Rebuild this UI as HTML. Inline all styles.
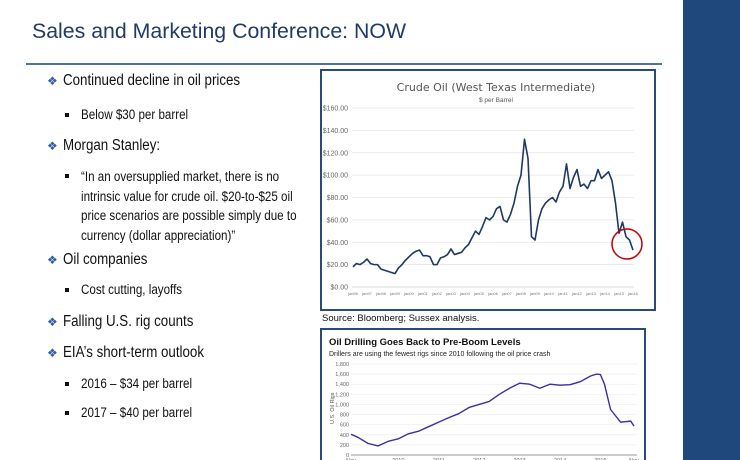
<!DOCTYPE html>
<html><head><meta charset="utf-8"><style>
body{margin:0;width:740px;height:460px;overflow:hidden;background:#fff;font-family:"Liberation Sans",sans-serif;position:relative}
.t{position:absolute;white-space:nowrap;transform:scaleX(0.86);transform-origin:left top;color:#111}
.b1{font-size:15.5px}
.b2{font-size:13.5px}
.dm{position:absolute;color:#2e5aa8;font-size:12px}
.sq{position:absolute;width:4px;height:4px;background:#111}
</style></head><body>
<div style="position:absolute;left:683px;top:0;width:57px;height:460px;background:#1f497d"></div>
<div style="position:absolute;left:32px;top:19px;font-size:21.3px;color:#1f3b66;white-space:nowrap">Sales and Marketing Conference: NOW</div>
<div style="position:absolute;left:26px;top:63px;width:636px;height:2px;background:#4f6f9f"></div>

<div>
<span class="dm" style="left:47px;top:74px">❖</span><div class="t b1" style="left:63px;top:72px">Continued decline in oil prices</div>
<div class="sq" style="left:65px;top:113px"></div><div class="t b2" style="left:81px;top:107px">Below $30 per barrel</div>
<span class="dm" style="left:47px;top:139px">❖</span><div class="t b1" style="left:63px;top:137px">Morgan Stanley:</div>
<div class="sq" style="left:65px;top:174px"></div>
<div class="t b2" style="left:81px;top:167px;line-height:19.5px">“In an oversupplied market, there is no<br>intrinsic value for crude oil. $20-to-$25 oil<br>price scenarios are possible simply due to<br>currency (dollar appreciation)”</div>
<span class="dm" style="left:47px;top:253px">❖</span><div class="t b1" style="left:63px;top:251px">Oil companies</div>
<div class="sq" style="left:65px;top:288px"></div><div class="t b2" style="left:81px;top:282px">Cost cutting, layoffs</div>
<span class="dm" style="left:47px;top:315px">❖</span><div class="t b1" style="left:63px;top:313px">Falling U.S. rig counts</div>
<span class="dm" style="left:47px;top:346px">❖</span><div class="t b1" style="left:63px;top:344px">EIA’s short-term outlook</div>
<div class="sq" style="left:65px;top:382px"></div><div class="t b2" style="left:81px;top:376px">2016 – $34 per barrel</div>
<div class="sq" style="left:65px;top:411px"></div><div class="t b2" style="left:81px;top:405px">2017 – $40 per barrel</div>
</div>

<svg id="c1" style="position:absolute;left:320px;top:69px" width="336" height="242"></svg>
<div style="position:absolute;left:322px;top:313px;font-size:9.5px;color:#111;white-space:nowrap">Source: Bloomberg; Sussex analysis.</div>
<svg id="c2" style="position:absolute;left:320px;top:328px" width="326" height="132"></svg>

<script>
const oilYears=[1996,1996.25,1996.5,1996.75,1997,1997.25,1997.5,1997.75,1998,1998.25,1998.5,1998.75,1999,1999.25,1999.5,1999.75,2000,2000.25,2000.5,2000.75,2001,2001.25,2001.5,2001.75,2002,2002.25,2002.5,2002.75,2003,2003.25,2003.5,2003.75,2004,2004.25,2004.5,2004.75,2005,2005.25,2005.5,2005.75,2006,2006.25,2006.5,2006.75,2007,2007.25,2007.5,2007.75,2008,2008.25,2008.5,2008.75,2009,2009.25,2009.5,2009.75,2010,2010.25,2010.5,2010.75,2011,2011.25,2011.5,2011.75,2012,2012.25,2012.5,2012.75,2013,2013.25,2013.5,2013.75,2014,2014.25,2014.5,2014.75,2015,2015.25,2015.5,2015.75,2016];
const oilPrices=[18,21,20,22,25,21,20,20,16,15,14,13,12,17,20,24,27,30,32,33,28,28,27,20,20,26,27,29,34,29,30,31,35,38,44,50,47,54,62,60,63,70,72,60,58,65,75,90,100,132,115,45,42,60,70,75,78,80,76,85,90,110,88,98,105,90,92,88,95,95,105,97,100,103,95,75,48,58,45,42,33];
const oilTicks=[0,20,40,60,80,100,120,140,160];
const oilXLabels=["jan96","jan97","jan98","jan99","jan00","jan01","jan02","jan03","jan04","jan05","jan06","jan07","jan08","jan09","jan10","jan11","jan12","jan13","jan14","jan15","jan16"];
const rigYears=[2008.83,2009,2009.25,2009.5,2009.75,2010,2010.25,2010.5,2010.75,2011,2011.25,2011.5,2011.75,2012,2012.25,2012.5,2012.75,2013,2013.25,2013.5,2013.75,2014,2014.25,2014.5,2014.75,2014.9,2015,2015.1,2015.25,2015.5,2015.75,2015.83];
const rigCounts=[410,350,230,180,270,320,420,470,560,650,740,820,940,1000,1060,1200,1320,1420,1400,1320,1400,1380,1390,1450,1560,1600,1590,1400,900,650,670,570];
const rigTicks=[0,200,400,600,800,1000,1200,1400,1600,1800];
const rigXLabels=["Nov","2010","2011","2012","2013","2014","2015","Nov"];
const rigXPos=[2008.83,2010,2011,2012,2013,2014,2015,2015.83];

const NS="http://www.w3.org/2000/svg";
function mk(p,tag,a,txt){const e=document.createElementNS(NS,tag);for(const k in a)e.setAttribute(k,a[k]);if(txt!==undefined)e.textContent=txt;p.appendChild(e);return e;}

const c1=document.getElementById('c1');
let e=mk(c1,'rect',{x:1,y:1,width:334,height:240,fill:'#fff',stroke:'#2a4a7a','stroke-width':2});

e=mk(c1,'text',{x:176,y:22,'text-anchor':'middle','font-size':11,fill:'#555','font-family':'DejaVu Sans, sans-serif'},'Crude Oil (West Texas Intermediate)');

e=mk(c1,'text',{x:176,y:33,'text-anchor':'middle','font-size':6.5,fill:'#555'},'$ per Barrel');

const y1=v=>218-v/160*179, x1=t=>33+(t-1996)*14;
oilTicks.forEach(v=>{let g=mk(c1,'line',{x1:32,x2:314,y1:y1(v),y2:y1(v),stroke:v?'#e4e4e4':'#ccc','stroke-width':0.8});

let t=mk(c1,'text',{x:28,y:y1(v)+2.5,'text-anchor':'end','font-size':7,fill:'#666'},'$'+v+'.00');
});
oilXLabels.forEach((l,i)=>{let t=mk(c1,'text',{x:x1(1996+i),y:226,'text-anchor':'middle','font-size':4,fill:'#777'},l);
});
e=mk(c1,'polyline',{points:oilYears.map((t,i)=>x1(t)+','+y1(oilPrices[i])).join(' '),fill:'none',stroke:'#1f3864','stroke-width':1.6,'stroke-linejoin':'round'});

e=mk(c1,'circle',{cx:307,cy:175,r:15,fill:'none',stroke:'#c00000','stroke-width':1.5});


const c2=document.getElementById('c2');
e=mk(c2,'rect',{x:1,y:1,width:324,height:140,fill:'#fff',stroke:'#2a4a7a','stroke-width':2});

e=mk(c2,'text',{x:9,y:17,'font-size':9.5,'font-weight':'bold',fill:'#111'},'Oil Drilling Goes Back to Pre-Boom Levels');

e=mk(c2,'text',{x:9,y:28,'font-size':7,fill:'#222'},'Drillers are using the fewest rigs since 2010 following the oil price crash');

const y2=v=>127-v/1800*91, x2=t=>31+(t-2008.83)/7*283;
rigTicks.forEach(v=>{let g=mk(c2,'line',{x1:31,x2:317,y1:y2(v),y2:y2(v),stroke:v?'#eee':'#777','stroke-width':0.7});

let t=mk(c2,'text',{x:29,y:y2(v)+2,'text-anchor':'end','font-size':5.5,fill:'#666'},v.toLocaleString('en-US'));
});
rigXLabels.forEach((l,i)=>{let t=mk(c2,'text',{x:x2(rigXPos[i]),y:134,'text-anchor':'middle','font-size':5.5,fill:'#666'},l);
});
e=mk(c2,'text',{x:0,y:0,'font-size':5.5,fill:'#555',transform:'translate(14,96) rotate(-90)'},'U.S. Oil Rigs');

e=mk(c2,'polyline',{points:rigYears.map((t,i)=>x2(t)+','+y2(rigCounts[i])).join(' '),fill:'none',stroke:'#3a2fa0','stroke-width':1.4,'stroke-linejoin':'round'});

</script>
</body></html>
